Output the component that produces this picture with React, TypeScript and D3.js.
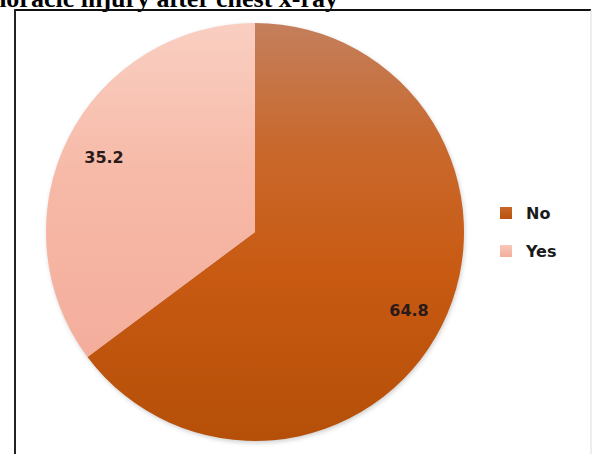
import React from "react";
import * as d3 from "d3";

const categories = ["No", "Yes"];
const values = [64.8, 35.2];
const labels = ["64.8", "35.2"];
const title = "Thoracic injury after chest x-ray";

const W = 592;
const H = 454;
const cx = 255;
const cy = 232;
const R = 209;

export default function App() {
  const pie = d3.pie<number>().sort(null).value((d) => d);
  const arcs = pie(values);
  const arcGen = d3.arc<d3.PieArcDatum<number>>().innerRadius(0).outerRadius(R);
  const labelPos: [number, number][] = [
    [154, 78],
    [-151, -75],
  ];
  const gradIds = ["gNo", "gYes"];
  const legendY = [213, 251];
  return (
    <svg width={W} height={H} style={{ position: "absolute", left: 0, top: 0 }}>
      <defs>
        <linearGradient id="gNo" gradientUnits="userSpaceOnUse" x1={0} y1={-R} x2={0} y2={R}>
          <stop offset="0" stopColor="#c47f5c" />
          <stop offset="0.3" stopColor="#c9682c" />
          <stop offset="0.6" stopColor="#c85a12" />
          <stop offset="1" stopColor="#b54f08" />
        </linearGradient>
        <linearGradient id="gYes" gradientUnits="userSpaceOnUse" x1={0} y1={-R} x2={0} y2={R}>
          <stop offset="0" stopColor="#f9cfc2" />
          <stop offset="0.35" stopColor="#f7baa8" />
          <stop offset="1" stopColor="#f3a796" />
        </linearGradient>
        <filter id="sh" x="-10%" y="-10%" width="120%" height="120%">
          <feGaussianBlur stdDeviation="2" />
        </filter>
        <linearGradient id="lgNo" x1="0" y1="0" x2="0" y2="1">
          <stop offset="0" stopColor="#c9672a" />
          <stop offset="1" stopColor="#b9520d" />
        </linearGradient>
        <linearGradient id="lgYes" x1="0" y1="0" x2="0" y2="1">
          <stop offset="0" stopColor="#f8c8b8" />
          <stop offset="1" stopColor="#f3ad9c" />
        </linearGradient>
      </defs>
      <rect x={0} y={0} width={W} height={H} fill="#ffffff" />
      <text
        x={338}
        y={7}
        textAnchor="end"
        fontFamily="Liberation Serif, Times New Roman, serif"
        fontWeight="bold"
        fontSize={26}
        fill="#000"
      >
        {title}
      </text>
      <line x1={15} y1={10} x2={591} y2={10} stroke="#111" strokeWidth={2} />
      <line x1={15} y1={9} x2={15} y2={H} stroke="#222" strokeWidth={2} />
      <line x1={591} y1={10} x2={591} y2={H} stroke="#ddd" strokeWidth={1} />
      <g transform={`translate(${cx},${cy})`}>
        <circle cx={1} cy={2} r={R} fill="#999" opacity={0.45} filter="url(#sh)" />
        {arcs.map((a, i) => (
          <path key={categories[i]} d={arcGen(a) || ""} fill={`url(#${gradIds[i]})`} />
        ))}
        {labels.map((l, i) => (
          <text
            key={l}
            x={labelPos[i][0]}
            y={labelPos[i][1]}
            textAnchor="middle"
            dominantBaseline="central"
            fontFamily="DejaVu Sans, sans-serif"
            fontWeight="bold"
            fontSize={16}
            fill="#2a1a1a"
          >
            {l}
          </text>
        ))}
      </g>
      {categories.map((c, i) => (
        <g key={c}>
          <rect x={500} y={legendY[i] - 6} width={12} height={12} fill={i === 0 ? "url(#lgNo)" : "url(#lgYes)"} />
          <text
            x={526}
            y={legendY[i]}
            dominantBaseline="central"
            fontFamily="DejaVu Sans, sans-serif"
            fontWeight="bold"
            fontSize={16}
            fill="#1a1a1a"
          >
            {c}
          </text>
        </g>
      ))}
    </svg>
  );
}
